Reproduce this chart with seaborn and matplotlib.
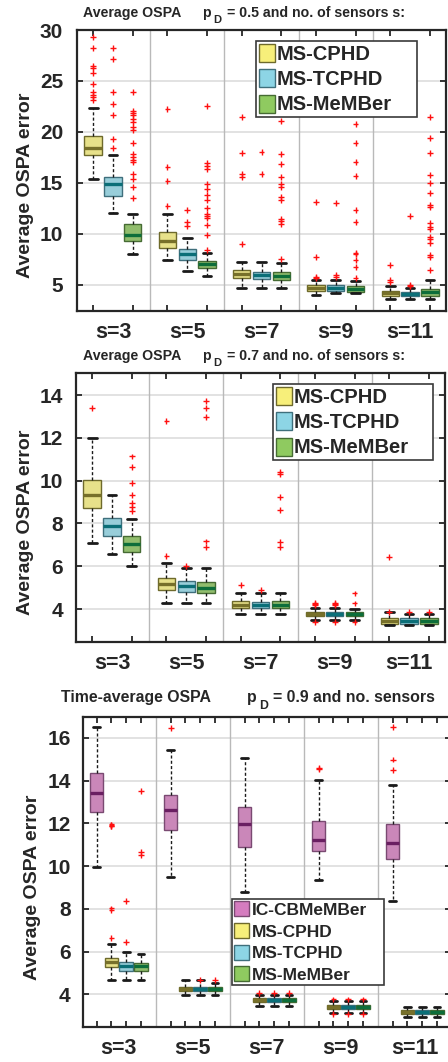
import numpy as np
import pandas as pd
import matplotlib
matplotlib.use("Agg")
import matplotlib.pyplot as plt
from matplotlib.patches import Patch
import seaborn as sns

# ---------------- data ----------------
GROUPS = ["s=3", "s=5", "s=7", "s=9", "s=11"]
METHODS_A = ["MS-CPHD", "MS-TCPHD", "MS-MeMBer"]
METHODS_B = ["IC-CBMeMBer", "MS-CPHD", "MS-TCPHD", "MS-MeMBer"]

# each tuple: (lower whisker, Q1, median, Q3, upper whisker), one per group
P05_CPHD = [(15.42, 17.72, 18.40, 19.64, 22.40), (7.49, 8.59, 9.31, 10.16, 11.96),
            (4.74, 5.65, 6.08, 6.44, 7.25), (4.02, 4.45, 4.74, 4.97, 5.49),
            (3.63, 3.92, 4.18, 4.41, 4.94)]
P05_TCPHD = [(12.09, 13.69, 14.87, 15.56, 17.78), (6.37, 7.45, 8.04, 8.56, 9.64),
             (4.74, 5.59, 5.98, 6.31, 7.25), (4.18, 4.45, 4.74, 4.97, 5.52),
             (3.63, 3.92, 4.15, 4.31, 4.74)]
P05_MEMBER = [(8.07, 9.31, 9.90, 10.98, 11.96), (5.91, 6.70, 7.06, 7.39, 8.14),
              (4.74, 5.46, 5.91, 6.27, 7.16), (4.18, 4.35, 4.64, 4.90, 5.39),
              (3.63, 3.95, 4.35, 4.61, 5.49)]
P05_CPHD_OUT = [[29.31, 28.27, 26.47, 26.24, 25.75, 24.74, 23.92, 23.63, 23.40, 23.14],
                [22.22, 16.57, 15.16, 12.75], [21.44, 17.91, 15.88, 15.62, 9.02],
                [13.11, 7.71, 5.82, 5.65], [6.93, 5.46, 5.26]]
P05_TCPHD_OUT = [[28.27, 27.13, 23.95, 22.78, 21.67, 19.31, 18.46], [12.32, 11.21, 10.75],
                 [18.04, 15.85], [13.04, 5.95, 5.75], [11.76, 4.99, 4.90]]
P05_MEMBER_OUT = [[23.95, 22.06, 21.86, 21.67, 21.24, 20.98, 20.46, 20.16, 18.95, 17.81,
                   17.52, 17.25, 17.06, 15.88, 15.39, 14.61, 13.53],
                  [22.51, 16.93, 16.70, 16.40, 14.87, 14.45, 13.82, 13.33, 12.55, 11.99,
                   11.76, 11.54, 10.88, 9.90, 8.46],
                  [21.05, 17.84, 16.86, 15.62, 14.90, 14.58, 13.66, 13.37, 11.47, 11.27,
                   10.95, 7.58],
                  [20.78, 18.95, 17.09, 15.72, 12.35, 11.21, 8.10, 8.01, 7.45, 6.80, 5.65],
                  [21.50, 19.45, 17.98, 15.82, 15.03, 13.99, 12.84, 12.68, 11.11, 10.65,
                   10.46, 9.74, 9.48, 9.15, 7.91, 7.71, 6.47]]

P07_CPHD = [(7.07, 8.72, 9.33, 10.04, 11.99), (4.26, 4.88, 5.17, 5.45, 6.13),
            (3.78, 4.06, 4.21, 4.37, 4.73), (3.48, 3.67, 3.76, 3.85, 4.07),
            (3.24, 3.32, 3.45, 3.57, 3.84)]
P07_TCPHD = [(6.57, 7.43, 7.86, 8.24, 9.35), (4.26, 4.79, 5.06, 5.31, 5.90),
             (3.78, 4.04, 4.21, 4.32, 4.73), (3.48, 3.67, 3.76, 3.85, 4.07),
             (3.24, 3.32, 3.45, 3.57, 3.79)]
P07_MEMBER = [(5.99, 6.65, 7.04, 7.43, 8.19), (4.26, 4.73, 4.99, 5.26, 5.90),
              (3.78, 4.04, 4.21, 4.37, 4.73), (3.48, 3.67, 3.78, 3.85, 4.02),
              (3.24, 3.32, 3.45, 3.57, 3.79)]
P07_CPHD_OUT = [[13.39], [12.78, 6.46], [5.13], [4.28, 4.22, 4.18, 3.41], [6.44, 3.88]]
P07_TCPHD_OUT = [[], [6.02], [4.91], [4.28, 4.22, 4.18, 3.41], [3.88]]
P07_MEMBER_OUT = [[11.13, 10.63, 9.88, 9.32, 8.94, 8.75, 8.58], [13.72, 13.41, 12.97, 7.16, 6.91],
                  [10.39, 10.32, 9.22, 8.61, 7.13, 6.88], [4.73, 4.26, 3.41], [3.88]]

P09_IC = [(9.98, 12.54, 13.43, 14.38, 16.53), (9.47, 11.68, 12.62, 13.32, 15.44),
          (8.77, 10.89, 11.98, 12.77, 15.08), (9.33, 10.70, 11.22, 12.13, 14.05),
          (8.39, 10.34, 11.08, 11.95, 13.79)]
P09_CPHD = [(4.65, 5.26, 5.53, 5.71, 6.34), (3.95, 4.16, 4.27, 4.36, 4.65),
            (3.45, 3.63, 3.75, 3.84, 3.95), (3.14, 3.31, 3.41, 3.51, 3.70),
            (2.96, 3.07, 3.18, 3.27, 3.42)]
P09_TCPHD = [(4.65, 5.09, 5.34, 5.51, 5.96), (3.95, 4.16, 4.26, 4.34, 4.65),
             (3.45, 3.63, 3.75, 3.84, 3.95), (3.14, 3.31, 3.41, 3.51, 3.70),
             (2.96, 3.07, 3.18, 3.27, 3.42)]
P09_MEMBER = [(4.65, 5.11, 5.33, 5.45, 5.90), (3.95, 4.16, 4.26, 4.34, 4.51),
              (3.45, 3.63, 3.75, 3.84, 3.95), (3.14, 3.31, 3.41, 3.51, 3.70),
              (2.96, 3.07, 3.18, 3.27, 3.42)]
P09_IC_OUT = [[], [16.48], [], [14.61, 14.54], [16.51, 14.99, 14.49]]
P09_CPHD_OUT = [[11.95, 11.92, 11.89, 11.86, 8.02, 7.94, 6.62], [], [4.05], [3.76, 3.08], []]
P09_TCPHD_OUT = [[8.35, 6.45], [4.66], [4.05], [3.76, 3.08], []]
P09_MEMBER_OUT = [[13.52, 10.66, 10.50], [4.66], [4.05], [3.76, 3.08], []]

# ---------------- style ----------------
FILL = {"IC-CBMeMBer": "#d57cbf", "MS-CPHD": "#f7ef7a", "MS-TCPHD": "#8dd5e5",
        "MS-MeMBer": "#8fca60"}
EDGE = {"IC-CBMeMBer": "#7a4a72", "MS-CPHD": "#6e6a2c", "MS-TCPHD": "#3f6f7c",
        "MS-MeMBer": "#466b33"}
MEDIAN = {"IC-CBMeMBer": "#6a1f62", "MS-CPHD": "#77702a", "MS-TCPHD": "#0b6f78",
          "MS-MeMBer": "#0d6e3a"}
DARK = "#262626"

sns.set_theme(style="white")
plt.rcParams["font.family"] = ["Liberation Sans", "DejaVu Sans"]
plt.rcParams["font.weight"] = "bold"
plt.rcParams["text.color"] = DARK
plt.rcParams["xtick.color"] = DARK
plt.rcParams["ytick.color"] = DARK

W, H = 448, 1062
fig = plt.figure(figsize=(W / 100, H / 100), dpi=100)


def rect(l, t, r, b):
    return [l / W, 1 - b / H, (r - l) / W, (b - t) / H]


def fx(x):
    return x / W


def fy(y):
    return 1 - y / H


def frames(stats, outs, methods):
    rows, orows = [], []
    for m, st, ou in zip(methods, stats, outs):
        for g, five, ol in zip(GROUPS, st, ou):
            rows += [(m, g, v) for v in five]
            orows += [(m, g, v) for v in ol]
    return (pd.DataFrame(rows, columns=["method", "s", "v"]),
            pd.DataFrame(orows, columns=["method", "s", "v"]))


def draw_panel(ax, stats, outs, methods, gap, ylim, yticks, ypad):
    width = 0.8
    box_df, out_df = frames(stats, outs, methods)
    pal = {m: FILL[m] for m in methods}
    for i in range(len(GROUPS) - 1):
        ax.axvline(i + 0.5, color="#b9b9b9", linewidth=1.0, zorder=0.6)
    for m in methods:
        sns.boxplot(data=box_df[box_df["method"] == m], x="s", y="v", hue="method",
                    order=GROUPS, hue_order=methods, palette=pal, dodge=True,
                    width=width, gap=gap, whis=(0, 100), showfliers=False,
                    linecolor=EDGE[m], linewidth=1.0,
                    medianprops=dict(color=MEDIAN[m], linewidth=2.4),
                    whiskerprops=dict(color="#1a1a1a", linestyle=(0, (2.2, 1.6)),
                                      linewidth=1.0),
                    capprops=dict(color="#1a1a1a", linewidth=2.0),
                    legend=False, ax=ax)
    sns.stripplot(data=out_df, x="s", y="v", hue="method", order=GROUPS,
                  hue_order=methods, palette={m: "#ff1010" for m in methods},
                  edgecolor="#ff1010", dodge=True, jitter=False, marker="+",
                  size=4.2, linewidth=1.0, legend=False, ax=ax, zorder=3)
    ax.set_xlim(-0.484, 4.484)
    ax.set_ylim(*ylim)
    ax.set_yticks(yticks)
    ax.set_xticks(range(len(GROUPS)))
    ax.set_xticklabels(GROUPS)
    n = len(methods)
    slot = width / n
    offs = [(k + 0.5) * slot - width / 2 for k in range(n)]
    ax.set_xticks([i + o for i in range(len(GROUPS)) for o in offs], minor=True)
    ax.tick_params(axis="x", which="major", length=0, pad=8, labelsize=15.5)
    ax.tick_params(axis="x", which="minor", direction="in", top=True, bottom=True,
                   length=4, width=1.3)
    ax.tick_params(axis="y", which="major", direction="in", left=True, right=True,
                   length=4, width=1.3, labelsize=15, pad=ypad)
    for lab in ax.get_xticklabels() + ax.get_yticklabels():
        lab.set_fontweight("bold")
    ax.yaxis.grid(True, color="#e2e2e2", linewidth=1.4)
    ax.xaxis.grid(False)
    ax.set_axisbelow(True)
    ax.set_xlabel("")
    ax.set_ylabel("")
    for sp in ax.spines.values():
        sp.set_visible(True)
        sp.set_color(DARK)
        sp.set_linewidth(1.6)


def legend(methods, x0, x1, top, size, hl, hh, ls):
    handles = [Patch(facecolor=FILL[m], edgecolor=EDGE[m], linewidth=1.0) for m in methods]
    leg = fig.legend(handles, methods, loc="upper left",
                     bbox_to_anchor=(fx(x0), fy(top), fx(x1) - fx(x0), 0),
                     bbox_transform=fig.transFigure, mode="expand", borderaxespad=0,
                     prop={"weight": "bold", "size": size}, handlelength=hl,
                     handleheight=hh, handletextpad=0.12, labelspacing=ls,
                     borderpad=0.14, fancybox=False, framealpha=1, edgecolor="#3a3a3a")
    leg.get_frame().set_linewidth(1.2)


def title(x_main, main, x_p, x_d, x_rest, rest, base, dbase, size, dsize):
    fig.text(fx(x_main), fy(base), main, fontsize=size, fontweight="bold", va="baseline")
    fig.text(fx(x_p), fy(base), "p", fontsize=size, fontweight="bold", va="baseline")
    fig.text(fx(x_d), fy(dbase), "D", fontsize=dsize, fontweight="bold", va="baseline")
    fig.text(fx(x_rest), fy(base), rest, fontsize=size, fontweight="bold", va="baseline")


# ---------- panel 1: pD = 0.5 ----------
ax1 = fig.add_axes(rect(77, 30, 446, 311))
draw_panel(ax1, [P05_CPHD, P05_TCPHD, P05_MEMBER],
           [P05_CPHD_OUT, P05_TCPHD_OUT, P05_MEMBER_OUT], METHODS_A,
           gap=0.12, ylim=(2.45, 30), yticks=[5, 10, 15, 20, 25, 30], ypad=10)
legend(METHODS_A, 256, 417, 41, 14.5, 0.78, 1.0, 0.27)
title(83, "Average OSPA", 202, 213, 227, "= 0.5 and no. of sensors s:", 16.8, 23.3, 10.2, 8)
fig.text(fx(26), fy(185), "Average OSPA error", rotation=90, ha="center", va="center",
         fontsize=14, fontweight="bold")

# ---------- panel 2: pD = 0.7 ----------
ax2 = fig.add_axes(rect(76, 373, 445, 642))
draw_panel(ax2, [P07_CPHD, P07_TCPHD, P07_MEMBER],
           [P07_CPHD_OUT, P07_TCPHD_OUT, P07_MEMBER_OUT], METHODS_A,
           gap=0.12, ylim=(2.46, 15.03), yticks=[4, 6, 8, 10, 12, 14], ypad=9.5)
legend(METHODS_A, 273, 433, 384, 14.5, 0.78, 1.0, 0.27)
title(83, "Average OSPA", 202, 213, 227, "= 0.7 and no. of sensors s:", 360.2, 366.3, 10.2, 8)
fig.text(fx(26), fy(522), "Average OSPA error", rotation=90, ha="center", va="center",
         fontsize=14, fontweight="bold")

# ---------- panel 3: pD = 0.9 ----------
ax3 = fig.add_axes(rect(83, 717, 450.7, 1027))
draw_panel(ax3, [P09_IC, P09_CPHD, P09_TCPHD, P09_MEMBER],
           [P09_IC_OUT, P09_CPHD_OUT, P09_TCPHD_OUT, P09_MEMBER_OUT], METHODS_B,
           gap=0.08, ylim=(2.47, 16.98), yticks=[4, 6, 8, 10, 12, 14, 16], ypad=9)
legend(METHODS_B, 232, 384, 899, 12.5, 0.86, 0.95, 0.3)
title(61, "Time-average OSPA", 247, 259, 273, "= 0.9 and no. sensors", 702, 709.3, 11.4, 8.8)
fig.text(fx(32.5), fy(887), "Average OSPA error", rotation=90, ha="center", va="center",
         fontsize=14, fontweight="bold")

fig.savefig("out.png", dpi=100)
